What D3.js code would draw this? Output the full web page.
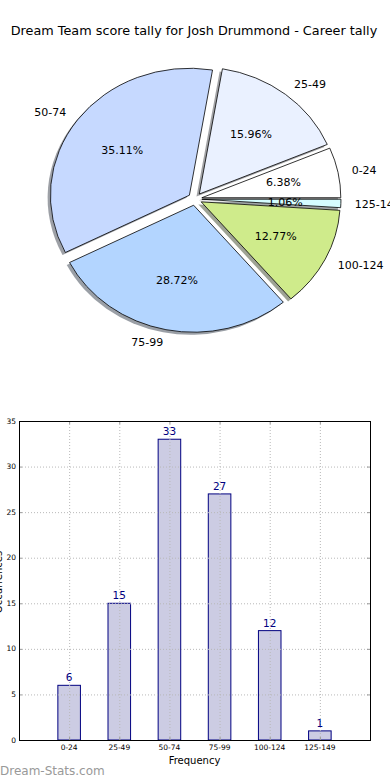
<!DOCTYPE html>
<html><head><meta charset="utf-8">
<script src="https://cdn.jsdelivr.net/npm/d3@7"></script>
<style>body{margin:0;background:#fff}svg{display:block;font-family:"DejaVu Sans",sans-serif}</style>
</head><body>
<svg id="c" width="390" height="780"></svg>
<script>
const title = "Dream Team score tally for Josh Drummond - Career tally";
const categories = ["0-24","25-49","50-74","75-99","100-124","125-149"];
const counts = [6,15,33,27,12,1];
const pieColors = ["#ffffff","#eaf1ff","#c6d9ff","#b3d5ff","#cfeb8b","#d5fdff"];
const yTicks = [0,5,10,15,20,25,30,35];
const xLabel = "Frequency";
const yLabel = "Occurrences";
const watermark = "Dream-Stats.com";

const svg = d3.select("#c");
svg.append("rect").attr("width",390).attr("height",780).attr("fill","#fff");

svg.append("text").attr("x",194).attr("y",35).attr("text-anchor","middle")
  .attr("font-size",12.8).attr("fill","#000").text(title);

// ---- Pie ----
const cx = 195, cy = 199, rx = 139, ry = 127, k = ry/rx, expl = 0.05*rx;
const total = d3.sum(counts);
const pie = d3.pie().sort(null).startAngle(Math.PI/2).endAngle(Math.PI/2 - 2*Math.PI);
const arcs = pie(counts);
const arc = d3.arc().innerRadius(0).outerRadius(rx);
const mid = d => (d.startAngle + d.endAngle)/2;
const off = d => [Math.sin(mid(d))*expl, -Math.cos(mid(d))*expl];

const gShadow = svg.append("g").attr("transform",`translate(${cx-2.8},${cy+2.6}) scale(1,${k})`);
gShadow.selectAll("path").data(arcs).join("path")
  .attr("transform", d => `translate(${off(d)[0]},${off(d)[1]})`)
  .attr("d", arc)
  .attr("fill", (d,i) => { const c = d3.rgb(pieColors[i]); return d3.rgb(c.r*0.3,c.g*0.3,c.b*0.3); })
  .attr("fill-opacity",0.5);

const gPie = svg.append("g").attr("transform",`translate(${cx},${cy}) scale(1,${k})`);
gPie.selectAll("path").data(arcs).join("path")
  .attr("transform", d => `translate(${off(d)[0]},${off(d)[1]})`)
  .attr("d", arc)
  .attr("fill", (d,i) => pieColors[i])
  .attr("stroke","#000").attr("stroke-width",0.8)
  .attr("vector-effect","non-scaling-stroke");

arcs.forEach((d,i) => {
  const a = mid(d), sx = Math.sin(a), sy = -Math.cos(a);
  const lx = cx + sx*(expl + 1.1*rx), ly = cy + sy*(expl + 1.1*rx)*k;
  svg.append("text").attr("x", lx).attr("y", ly).attr("dy","0.35em")
    .attr("text-anchor", sx > 0 ? "start" : "end")
    .attr("font-size",11).attr("fill","#000").text(categories[i]);
  const px = cx + sx*(expl + 0.6*rx), py = cy + sy*(expl + 0.6*rx)*k;
  svg.append("text").attr("x", px).attr("y", py).attr("dy","0.35em")
    .attr("text-anchor","middle").attr("font-size",11).attr("fill","#000")
    .text((counts[i]/total*100).toFixed(2) + "%");
});

// ---- Bar chart ----
const L = 19, R = 370, T = 421, B = 740;
const x = d3.scaleLinear().domain([-1, 6]).range([L, R]);
const y = d3.scaleLinear().domain([0, 35]).range([B, T]);
const bw = x(0.45) - x(0);

svg.append("g").selectAll("rect").data(counts).join("rect")
  .attr("x", (d,i) => x(i) - bw/2).attr("y", d => y(d))
  .attr("width", bw).attr("height", d => B - y(d))
  .attr("fill","#ccccE3").attr("stroke","#000080").attr("stroke-width",1);

const grid = svg.append("g").attr("stroke","#b8b8b8").attr("stroke-width",1).attr("stroke-dasharray","1,2");
grid.selectAll("line.v").data(categories).join("line").attr("class","v")
  .attr("x1",(d,i)=>x(i)+0.5).attr("x2",(d,i)=>x(i)+0.5).attr("y1",T).attr("y2",B);
grid.selectAll("line.h").data(yTicks).join("line").attr("class","h")
  .attr("x1",L).attr("x2",R).attr("y1",d=>y(d)+0.5).attr("y2",d=>y(d)+0.5);

// tick marks inside
const tk = svg.append("g").attr("stroke","#999").attr("stroke-width",1);
categories.forEach((c,i)=>{
  tk.append("line").attr("x1",x(i)+0.5).attr("x2",x(i)+0.5).attr("y1",T).attr("y2",T+3);
  tk.append("line").attr("x1",x(i)+0.5).attr("x2",x(i)+0.5).attr("y1",B).attr("y2",B-3);
});
yTicks.forEach(t=>{
  tk.append("line").attr("x1",L).attr("x2",L+3).attr("y1",y(t)+0.5).attr("y2",y(t)+0.5);
  tk.append("line").attr("x1",R).attr("x2",R-3).attr("y1",y(t)+0.5).attr("y2",y(t)+0.5);
});

svg.append("rect").attr("x",L+0.5).attr("y",T+0.5).attr("width",R-L).attr("height",B-T)
  .attr("fill","none").attr("stroke","#000").attr("stroke-width",1);

// value labels
svg.append("g").selectAll("text").data(counts).join("text")
  .attr("x",(d,i)=>x(i)).attr("y",d=>y(d)-4).attr("text-anchor","middle")
  .attr("font-size",10.5).attr("fill","#000080").text(d=>d);

// axis tick labels
svg.append("g").selectAll("text").data(yTicks).join("text")
  .attr("x",L-3).attr("y",d=>y(d)).attr("dy","0.35em").attr("text-anchor","end")
  .attr("font-size",7.5).attr("fill","#000").text(d=>d);
svg.append("g").selectAll("text").data(categories).join("text")
  .attr("x",(d,i)=>x(i)).attr("y",B+10).attr("text-anchor","middle")
  .attr("font-size",7.5).attr("fill","#000").text(d=>d);

svg.append("text").attr("x",(L+R)/2).attr("y",764).attr("text-anchor","middle")
  .attr("font-size",10).attr("fill","#000").text(xLabel);
svg.append("text").attr("transform","translate(2,582) rotate(-90)").attr("text-anchor","middle")
  .attr("font-size",10).attr("fill","#000").text(yLabel);

svg.append("text").attr("x",0).attr("y",775).attr("font-size",12).attr("fill","#999").text(watermark);
</script>
</body></html>
